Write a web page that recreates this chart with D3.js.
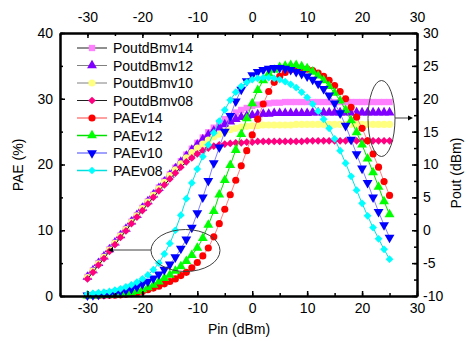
<!DOCTYPE html>
<html>
<head>
<meta charset="utf-8">
<script src="https://cdnjs.cloudflare.com/ajax/libs/d3/7.8.5/d3.min.js"></script>
<style>
  body { margin: 0; background: #fff; }
  text { font-family: Arial, "Liberation Sans", sans-serif; }
</style>
</head>
<body>
<svg id="chart" width="468" height="341"></svg>
<script>
// Pin (dBm) sweep
var pin = [-30,-29,-28,-27,-26,-25,-24,-23,-22,-21,-20,-19,-18,-17,-16,-15,-14,-13,-12,-11,
  -10,-9,-8,-7,-6,-5,-4,-3,-2,-1,0,1,2,3,4,5,6,7,8,9,10,11,12,13,14,15,16,17,18,19,20,21,22,23,24,25];

// Pout (dBm), right axis
var poutV14 = [-7.1,-6.1,-5.0,-4.0,-2.9,-1.9,-0.8,0.2,1.3,2.3,3.4,4.4,5.4,6.5,7.5,8.5,9.5,10.5,11.5,12.4,
  13.3,14.1,14.9,15.6,16.3,16.9,17.4,17.9,18.3,18.6,18.9,19.1,19.2,19.3,19.4,19.4,19.5,19.5,19.5,19.5,
  19.5,19.5,19.5,19.5,19.5,19.5,19.5,19.5,19.5,19.5,19.5,19.5,19.5,19.5,19.5,19.5];
var poutV12 = [-7.1,-6.1,-5.0,-4.0,-2.9,-1.9,-0.8,0.2,1.3,2.3,3.4,4.4,5.4,6.4,7.4,8.4,9.4,10.4,11.3,12.2,
  13.0,13.8,14.5,15.1,15.6,16.1,16.5,16.9,17.2,17.4,17.5,17.6,17.7,17.7,17.8,17.8,17.8,17.8,17.8,17.8,
  17.8,17.9,17.9,17.9,17.9,17.9,17.9,17.9,17.9,17.9,17.9,17.9,17.9,17.9,17.9,17.9];
var poutV10 = [-7.2,-6.2,-5.1,-4.1,-3.0,-2.0,-0.9,0.1,1.2,2.2,3.3,4.3,5.3,6.3,7.3,8.3,9.2,10.1,11.0,11.8,
  12.5,13.1,13.7,14.2,14.6,15.0,15.3,15.5,15.7,15.8,15.9,15.9,16.0,16.0,16.0,16.0,16.0,16.0,16.1,16.1,
  16.1,16.1,16.1,16.1,16.1,16.1,16.1,16.1,16.1,16.1,16.1,16.1,16.1,16.1,16.1,16.1];
var poutV08 = [-7.4,-6.4,-5.3,-4.3,-3.2,-2.2,-1.1,-0.1,1.0,2.0,3.0,4.0,5.0,6.0,6.9,7.8,8.7,9.6,10.4,11.0,
  11.6,12.1,12.5,12.8,13.0,13.1,13.2,13.3,13.3,13.4,13.4,13.5,13.5,13.5,13.5,13.5,13.5,13.5,13.5,13.5,
  13.6,13.6,13.6,13.6,13.6,13.6,13.6,13.6,13.6,13.6,13.6,13.6,13.6,13.6,13.6,13.6];

// PAE (%), left axis
var paeV14 = [0.02,0.03,0.05,0.07,0.1,0.13,0.18,0.25,0.35,0.5,0.7,0.95,1.2,1.5,1.85,2.2,2.6,3.1,3.6,4.3,
  5.1,6.1,7.3,9.0,11.0,13.2,15.4,17.6,19.8,22.1,24.5,26.9,29.2,31.1,32.5,33.4,34.0,34.4,34.6,34.6,
  34.5,34.3,33.9,33.4,32.8,32.0,31.1,30.0,28.7,27.2,25.5,23.6,21.6,19.6,17.4,15.3];
var paeV12 = [0.05,0.07,0.1,0.13,0.17,0.22,0.3,0.4,0.55,0.75,1.0,1.3,1.7,2.2,2.7,3.2,3.8,4.5,5.3,6.2,
  7.3,8.8,10.8,12.9,15.4,17.6,19.9,22.2,24.6,27.0,29.3,31.3,32.8,33.8,34.4,34.8,35.0,35.1,35.1,34.9,
  34.6,34.1,33.5,32.8,31.9,30.9,29.7,28.3,26.7,24.9,23.0,20.9,18.8,16.6,14.4,12.4];
var paeV10 = [0.1,0.15,0.2,0.3,0.4,0.5,0.7,0.9,1.1,1.4,1.8,2.2,2.7,3.3,4.0,4.8,5.9,7.2,8.6,10.4,
  12.6,15.0,17.5,20.2,22.6,25.0,27.4,29.6,31.4,32.7,33.6,34.1,34.4,34.6,34.7,34.7,34.6,34.4,34.1,33.8,
  33.4,32.9,32.3,31.5,30.5,29.3,27.8,25.9,23.8,21.6,19.4,17.2,15.0,12.8,10.8,8.9];
var paeV08 = [0.3,0.4,0.5,0.6,0.7,0.9,1.1,1.4,1.7,2.1,2.6,3.2,4.0,5.0,6.4,8.0,10.0,12.3,14.8,17.2,
  19.3,21.2,23.0,24.8,26.6,28.3,29.8,31.0,31.9,32.5,32.9,33.1,33.2,33.2,33.1,32.9,32.6,32.2,31.7,31.0,
  30.2,29.2,28.1,26.9,25.5,23.9,22.1,20.2,18.2,16.1,14.1,12.2,10.4,8.7,7.1,5.6];

var xTicks = [-30,-20,-10,0,10,20,30];
var leftTicks = [0,10,20,30,40];
var rightTicks = [-10,-5,0,5,10,15,20,25,30];

// series in drawing order (later ones on top)
var series = [
  {name: "PoutdBmv14", values: poutV14, axis: "right", fill: "#ff80ff", line: "#202020", shape: "square"},
  {name: "PoutdBmv12", values: poutV12, axis: "right", fill: "#8000ff", line: "#808080", shape: "up"},
  {name: "PoutdBmv10", values: poutV10, axis: "right", fill: "#ffff80", line: "#808080", shape: "circle"},
  {name: "PoutdBmv08", values: poutV08, axis: "right", fill: "#ff0080", line: "#202020", shape: "diamond"},
  {name: "PAEv14", values: paeV14, axis: "left", fill: "#ff0000", line: "#ff8080", shape: "circle"},
  {name: "PAEv12", values: paeV12, axis: "left", fill: "#00ff00", line: "#00e000", shape: "up"},
  {name: "PAEv10", values: paeV10, axis: "left", fill: "#0000ff", line: "#8080ff", shape: "down"},
  {name: "PAEv08", values: paeV08, axis: "left", fill: "#00ffff", line: "#00e0e0", shape: "diamond"}
];

var svg = d3.select("#chart");
var mLeft = 60, mRight = 417, mTop = 33, mBottom = 296;

var x = d3.scaleLinear().domain([-35, 30]).range([mLeft, mRight]);
var yL = d3.scaleLinear().domain([0, 40]).range([mBottom, mTop]);
var yR = d3.scaleLinear().domain([-10, 30]).range([mBottom, mTop]);

svg.append("rect").attr("width", 468).attr("height", 341).attr("fill", "#fff");

function marker(shape) {
  if (shape === "square") return d3.symbol().type(d3.symbolSquare).size(40)();
  if (shape === "circle") return d3.symbol().type(d3.symbolCircle).size(40)();
  if (shape === "up" || shape === "down") return d3.symbol().type(d3.symbolTriangle).size(42)();
  return d3.symbol().type(d3.symbolSquare).size(30)();
}
function markerRot(shape) {
  if (shape === "down") return " rotate(180)";
  if (shape === "diamond") return " rotate(45)";
  return "";
}

// curves
series.forEach(function(s) {
  var y = s.axis === "left" ? yL : yR;
  var g = svg.append("g");
  g.append("path")
    .datum(s.values)
    .attr("fill", "none")
    .attr("stroke", s.line)
    .attr("stroke-width", 1)
    .attr("d", d3.line().x(function(d, i) { return x(pin[i]); }).y(function(d) { return y(d); }));
  g.selectAll("path.m")
    .data(s.values)
    .enter().append("path")
    .attr("class", "m")
    .attr("d", marker(s.shape))
    .attr("fill", s.fill)
    .attr("transform", function(d, i) {
      return "translate(" + x(pin[i]) + "," + y(d) + ")" + markerRot(s.shape);
    });
});

// axes (ticks pointing inward)
function styleAxis(g) {
  g.select(".domain").attr("stroke", "#000").attr("stroke-width", 2);
  g.selectAll(".tick line").attr("stroke", "#000").attr("stroke-width", 1.5);
  g.selectAll("text").attr("font-size", 14).attr("fill", "#000")
    .attr("font-family", "Arial, 'Liberation Sans', sans-serif");
}
var fmt = function(d) { return String(d); };
var minorX = d3.range(-35, 31, 5);
var minorL = d3.range(0, 41, 5);
var minorR = d3.range(-10, 31, 2.5);

svg.append("g").attr("transform", "translate(0," + mBottom + ")")
  .call(d3.axisBottom(x).tickValues(minorX).tickFormat("").tickSize(-3).tickSizeOuter(0)).call(styleAxis);
svg.append("g").attr("transform", "translate(0," + mBottom + ")")
  .call(d3.axisBottom(x).tickValues(xTicks).tickFormat(fmt).tickSize(-5).tickSizeOuter(0).tickPadding(7)).call(styleAxis);
svg.append("g").attr("transform", "translate(0," + mTop + ")")
  .call(d3.axisTop(x).tickValues(minorX).tickFormat("").tickSize(-3).tickSizeOuter(0)).call(styleAxis);
svg.append("g").attr("transform", "translate(0," + mTop + ")")
  .call(d3.axisTop(x).tickValues(xTicks).tickFormat(fmt).tickSize(-5).tickSizeOuter(0).tickPadding(11)).call(styleAxis);
svg.append("g").attr("transform", "translate(" + mLeft + ",0)")
  .call(d3.axisLeft(yL).tickValues(minorL).tickFormat("").tickSize(-3).tickSizeOuter(0)).call(styleAxis);
svg.append("g").attr("transform", "translate(" + mLeft + ",0)")
  .call(d3.axisLeft(yL).tickValues(leftTicks).tickFormat(fmt).tickSize(-5).tickSizeOuter(0).tickPadding(7)).call(styleAxis);
svg.append("g").attr("transform", "translate(" + mRight + ",0)")
  .call(d3.axisRight(yR).tickValues(minorR).tickFormat("").tickSize(-3).tickSizeOuter(0)).call(styleAxis);
svg.append("g").attr("transform", "translate(" + mRight + ",0)")
  .call(d3.axisRight(yR).tickValues(rightTicks).tickFormat(fmt).tickSize(-5).tickSizeOuter(0).tickPadding(6)).call(styleAxis);

// axis titles
svg.append("text").attr("x", 239).attr("y", 334).attr("text-anchor", "middle")
  .attr("font-size", 14).text("Pin (dBm)");
svg.append("text").attr("transform", "translate(23,165) rotate(-90)").attr("text-anchor", "middle")
  .attr("font-size", 14).text("PAE (%)");
svg.append("text").attr("transform", "translate(461,173) rotate(-90)").attr("text-anchor", "middle")
  .attr("font-size", 14).text("Pout (dBm)");

// annotation ellipses and arrows
var ann = svg.append("g").attr("fill", "none").attr("stroke", "#404040").attr("stroke-width", 1);
ann.append("ellipse").attr("cx", 381.5).attr("cy", 118.5).attr("rx", 13.5).attr("ry", 38);
ann.append("line").attr("x1", 395).attr("y1", 118).attr("x2", 410).attr("y2", 118);
svg.append("path").attr("d", "M413,118 L408,115.5 L408,120.5 Z").attr("fill", "#000");
ann.append("ellipse").attr("cx", 185.5).attr("cy", 250.5).attr("rx", 34.5).attr("ry", 21);
ann.append("line").attr("x1", 151).attr("y1", 250).attr("x2", 112).attr("y2", 250);
svg.append("path").attr("d", "M108,250 L113,247.5 L113,252.5 Z").attr("fill", "#000");

// legend
var leg = svg.append("g");
series.forEach(function(s, i) {
  var ly = 48 + i * 17.5;
  leg.append("line").attr("x1", 77).attr("x2", 107).attr("y1", ly).attr("y2", ly)
    .attr("stroke", s.line).attr("stroke-width", s.axis === "left" ? 1.5 : 1);
  leg.append("path").attr("d", marker(s.shape)).attr("fill", s.fill)
    .attr("transform", "translate(92," + ly + ")" + markerRot(s.shape));
  leg.append("text").attr("x", 113).attr("y", ly).attr("dy", "0.36em")
    .attr("font-size", 14).text(s.name);
});
</script>
</body>
</html>
